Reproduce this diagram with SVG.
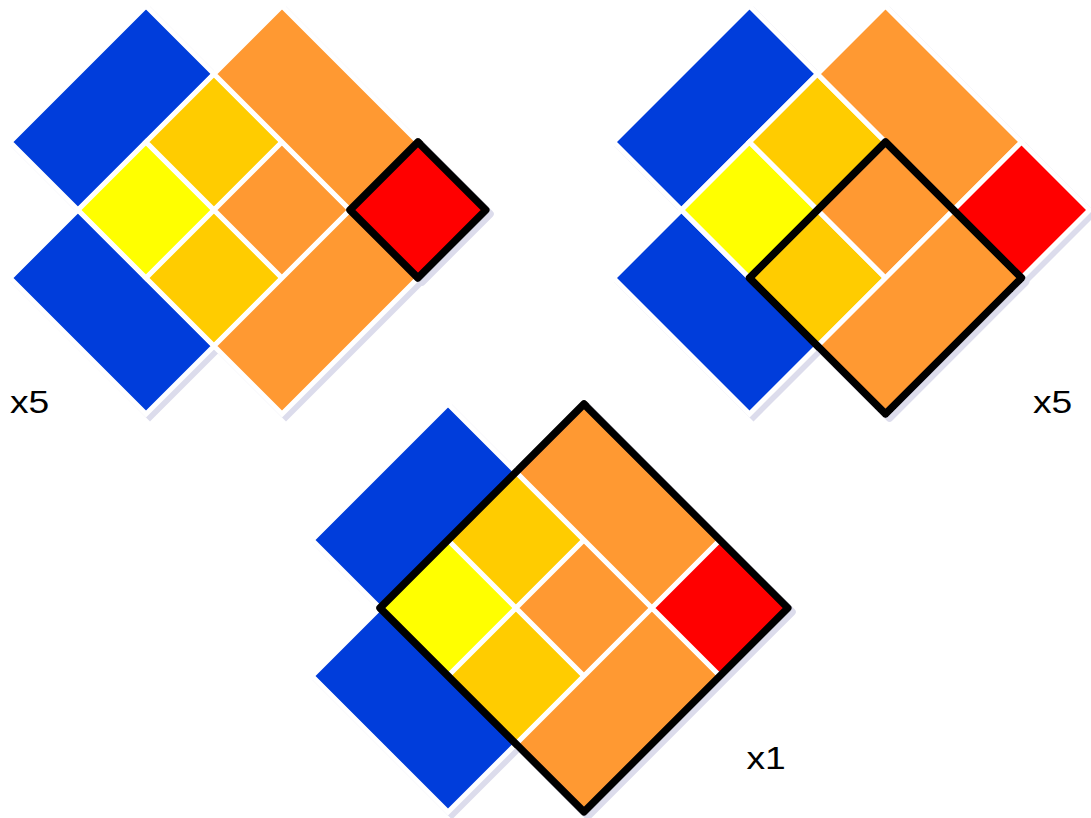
<svg xmlns="http://www.w3.org/2000/svg" xmlns:xlink="http://www.w3.org/1999/xlink" width="1091" height="818" viewBox="0 0 1091 818">
<style>
.c{stroke:#fff;stroke-width:5;stroke-linejoin:miter}
.blue{fill:#003cdb}
.yel{fill:#ffff00}
.gold{fill:#ffcc00}
.org{fill:#ff9933}
.red{fill:#ff0000}
.ol{fill:none;stroke:#000;stroke-width:7.5;stroke-linejoin:round}
.lbl{font-family:"Liberation Sans",Arial,sans-serif;font-size:31px;fill:#000}
</style>
<defs>
<filter id="sh" x="-10%" y="-10%" width="130%" height="130%">
<feOffset in="SourceAlpha" dx="4" dy="4" result="o"/>
<feFlood flood-color="#dcdcec"/>
<feComposite in2="o" operator="in" result="s"/>
<feMerge><feMergeNode in="s"/><feMergeNode in="SourceGraphic"/></feMerge>
</filter>
<g id="pat">
<polygon class="c blue" points="-136,-68 0,-204 68,-136 -68,0"/>
<polygon class="c blue" points="-136,68 -68,0 68,136 0,204"/>
<polygon class="c yel" points="-68,0 0,-68 68,0 0,68"/>
<polygon class="c gold" points="0,-68 68,-136 136,-68 68,0"/>
<polygon class="c gold" points="0,68 68,0 136,68 68,136"/>
<polygon class="c org" points="68,0 136,-68 204,0 136,68"/>
<polygon class="c org" points="68,-136 136,-204 272,-68 204,0"/>
<polygon class="c org" points="68,136 204,0 272,68 136,204"/>
<polygon class="c red" points="204,0 272,-68 340,0 272,68"/>
</g>
</defs>
<g id="diagram1" transform="translate(146,210)" filter="url(#sh)">
<use xlink:href="#pat" href="#pat"/>
<polygon class="ol" points="204,0 272,-68 340,0 272,68"/>
</g>
<g id="diagram2" transform="translate(749.5,210)" filter="url(#sh)">
<use xlink:href="#pat" href="#pat"/>
<polygon class="ol" points="136,-68 272,68 136,204 0,68"/>
</g>
<g id="diagram3" transform="translate(448,608)" filter="url(#sh)">
<use xlink:href="#pat" href="#pat"/>
<polygon class="ol" points="136,-204 340,0 136,204 -68,0"/>
</g>
<g id="connectors"></g>
<g id="labels">
<text class="lbl" transform="translate(10,413) scale(1.2,1)">x5</text>
<text class="lbl" transform="translate(1033,413) scale(1.2,1)">x5</text>
<text class="lbl" transform="translate(746.5,769) scale(1.2,1)">x1</text>
</g>
</svg>
